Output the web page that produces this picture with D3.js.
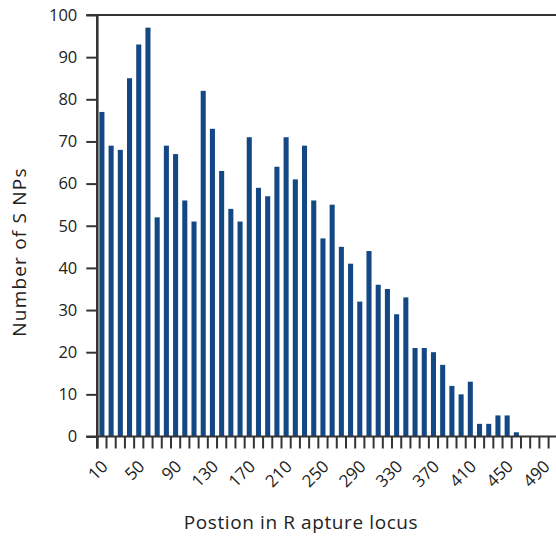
<!DOCTYPE html>
<html>
<head>
<meta charset="utf-8">
<script src="https://cdn.jsdelivr.net/npm/d3@7"></script>
<style>
  html, body { margin: 0; padding: 0; background: #fff; }
  svg { display: block; }
  text { font-family: "Open Sans", "DejaVu Sans", sans-serif; fill: #222; }
</style>
</head>
<body>
<svg id="chart" width="556" height="538"></svg>
<script>
// Data
const positions = [10,20,30,40,50,60,70,80,90,100,110,120,130,140,150,160,170,180,190,200,
  210,220,230,240,250,260,270,280,290,300,310,320,330,340,350,360,370,380,390,400,
  410,420,430,440,450,460,470,480,490];
const snpCounts = [77,69,68,85,93,97,52,69,67,56,51,82,73,63,54,51,71,59,57,64,
  71,61,69,56,47,55,45,41,32,44,36,35,29,33,21,21,20,17,12,10,
  13,3,3,5,5,1,0,0,0];
const yTicks = [0,10,20,30,40,50,60,70,80,90,100];
const xLabels = [10,50,90,130,170,210,250,290,330,370,410,450,490];
const yTitle = "Number of S NPs";
const xTitle = "Postion in R apture locus";

(function () {
const svg = d3.select("#chart");
const W = 556;
const mLeft = 97.3, mRight = 548.6, mTop = 15, mBottom = 436.5;
const axisColor = "#343434";
const barColor = "#134884";

const x = d3.scaleBand().domain(positions).range([mLeft, mRight]).paddingInner(0).paddingOuter(0);
const y = d3.scaleLinear().domain([0, 100]).range([mBottom, mTop]);
const step = x.step();
const barW = step * 0.55;

// bars
svg.append("g").selectAll("rect").data(positions.map((p, i) => ({p, v: snpCounts[i]})))
  .enter().append("rect")
  .attr("x", d => x(d.p) + (step - barW) / 2)
  .attr("y", d => y(d.v))
  .attr("width", barW)
  .attr("height", d => y(0) - y(d.v))
  .attr("fill", barColor);

// y axis
const yAxis = d3.axisLeft(y).tickValues(yTicks).tickSize(11).tickPadding(9);
const gy = svg.append("g").attr("transform", `translate(${mLeft},0)`).call(yAxis);
gy.select(".domain").remove();
gy.selectAll(".tick line").attr("stroke", axisColor).attr("stroke-width", 2);
gy.selectAll(".tick text").style("font-size", "16.5px").attr("fill", "#222");
svg.append("line").attr("x1", mLeft).attr("x2", mLeft).attr("y1", mTop).attr("y2", mBottom + 12)
  .attr("stroke", axisColor).attr("stroke-width", 2.6);

// top frame line
svg.append("line").attr("x1", mLeft - 11).attr("x2", W).attr("y1", y(100)).attr("y2", y(100))
  .attr("stroke", axisColor).attr("stroke-width", 2);

// x axis line
svg.append("line").attr("x1", mLeft - 11).attr("x2", W).attr("y1", y(0)).attr("y2", y(0))
  .attr("stroke", axisColor).attr("stroke-width", 2.2);

// x boundary ticks
const bounds = positions.map(p => x(p)).concat([x(positions[positions.length - 1]) + step]);
svg.append("g").selectAll("line").data(bounds).enter().append("line")
  .attr("x1", d => d).attr("x2", d => d)
  .attr("y1", y(0)).attr("y2", y(0) + 12)
  .attr("stroke", axisColor).attr("stroke-width", 2);

// x labels
const xAxis = d3.axisBottom(x).tickValues(xLabels).tickSize(0).tickPadding(0);
const gx = svg.append("g").attr("transform", `translate(0,${mBottom})`).call(xAxis);
gx.select(".domain").remove();
gx.selectAll(".tick text")
  .style("font-size", "17px")
  .attr("fill", "#222")
  .attr("text-anchor", "end")
  .attr("dy", null)
  .attr("y", 0)
  .attr("transform", "translate(7,31) rotate(-45)");

// titles
svg.append("text").attr("x", 301).attr("y", 529).attr("text-anchor", "middle")
  .style("font-size", "19px").style("letter-spacing", "0.6px").text(xTitle);
svg.append("text").attr("transform", `translate(26,252) rotate(-90)`).attr("text-anchor", "middle")
  .style("font-size", "19px").style("letter-spacing", "1.2px").text(yTitle);
})();
</script>
</body>
</html>
